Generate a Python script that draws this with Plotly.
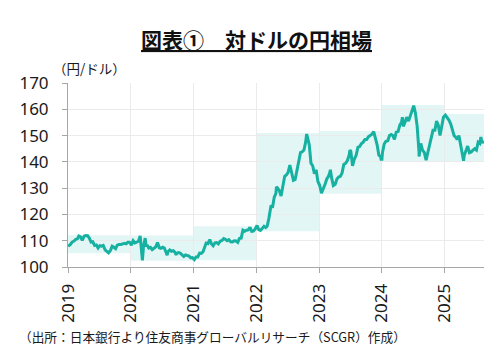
import pandas as pd
import plotly.graph_objects as go

# ---- data (USD/JPY, yen per dollar), sampled ~5th/15th/25th of each month ----
usdjpy_2019 = [108.0, 108.6, 109.5, 109.9, 110.5, 110.7, 111.8, 111.5, 110.1,
               111.7, 112.0, 111.9, 111.0, 109.5, 109.6, 108.2, 108.4, 107.2,
               108.1, 107.9, 108.2, 106.5, 106.0, 105.4, 106.3, 107.9, 107.5,
               107.0, 108.3, 108.6, 108.6, 108.8, 109.0, 108.8, 109.4, 109.4]
usdjpy_2020 = [108.3, 110.0, 109.2, 109.5, 109.8, 111.8, 106.5, 107.5, 111.0,
               108.4, 107.2, 107.5, 106.6, 107.2, 107.6, 109.3, 107.3, 107.1,
               107.5, 107.2, 105.8, 105.8, 106.5, 106.0, 106.2, 105.6, 105.2,
               105.5, 105.3, 104.8, 104.0, 104.6, 104.3, 104.2, 103.5, 103.6]
usdjpy_2021 = [102.8, 103.8, 103.8, 105.3, 105.2, 105.8, 107.7, 109.1, 108.9,
               110.4, 108.8, 108.1, 109.2, 109.3, 108.8, 109.8, 110.1, 110.8,
               110.5, 110.0, 110.4, 109.6, 109.5, 110.0, 109.9, 109.4, 110.9,
               111.0, 114.0, 113.6, 114.0, 114.1, 115.1, 113.6, 113.7, 114.4]
usdjpy_2022 = [115.8, 114.2, 113.9, 115.0, 115.5, 115.0, 115.5, 118.5, 122.0,
               122.5, 126.5, 128.0, 130.0, 129.0, 127.0, 130.5, 134.5, 135.0,
               136.0, 138.8, 136.5, 133.0, 133.3, 136.8, 140.5, 143.5, 143.8,
               144.5, 147.5, 149.5, 146.5, 139.5, 138.5, 135.5, 137.0, 132.6]
usdjpy_2023 = [131.0, 128.1, 129.5, 131.5, 133.5, 134.5, 136.0, 134.0, 131.0,
               131.5, 133.5, 134.2, 134.5, 135.8, 139.0, 139.5, 140.5, 142.5,
               144.0, 138.5, 141.0, 142.5, 145.5, 145.8, 147.0, 147.5, 148.5,
               148.5, 149.5, 150.0, 150.5, 151.5, 149.0, 146.5, 142.5, 142.0]
usdjpy_2024 = [143.5, 146.8, 147.8, 148.0, 150.0, 150.4, 150.0, 148.5, 151.3,
               151.5, 154.0, 155.0, 153.5, 155.0, 157.0, 155.5, 157.5, 159.5,
               161.4, 158.5, 153.5, 143.5, 147.0, 144.5, 143.5, 140.6, 143.5,
               146.5, 149.5, 152.0, 152.0, 155.5, 154.0, 150.0, 153.5, 157.0]
usdjpy_2025 = [157.8, 157.0, 156.0, 154.5, 152.0, 150.0, 149.5, 148.5, 150.0,
               146.5, 143.0, 142.5, 144.0, 146.0, 143.5, 143.8, 144.5, 145.0,
               144.5, 147.5, 147.0, 147.5, 147.5]
extra_dates = ["2019-01-03", "2020-03-09", "2020-03-31", "2020-07-31", "2020-09-21",
               "2020-12-30", "2022-03-28", "2022-04-28", "2022-10-21", "2023-03-08",
               "2023-06-30", "2023-12-28", "2024-01-02", "2024-04-30", "2024-08-05",
               "2025-04-21", "2025-07-31", "2025-08-18"]
extra_values = [107.7, 102.5, 107.8, 104.5, 104.6,
                103.2, 123.5, 130.5, 150.6, 137.0,
                144.5, 141.0, 141.0, 157.0, 142.0,
                140.4, 149.5, 147.6]

years = [2019, 2020, 2021, 2022, 2023, 2024, 2025]
year_low = [105.2, 102.4, 102.6, 113.6, 127.9, 140.3, 140.0]
year_high = [112.1, 112.0, 115.5, 151.0, 151.7, 161.6, 158.2]
x_end = "2025-08-18"

title_text = "図表①　対ドルの円相場"
unit_text = "（円/ドル）"
source_text = "（出所：日本銀行より住友商事グローバルリサーチ（SCGR）作成）"

# ---- build series ----
series = {2019: usdjpy_2019, 2020: usdjpy_2020, 2021: usdjpy_2021, 2022: usdjpy_2022,
          2023: usdjpy_2023, 2024: usdjpy_2024, 2025: usdjpy_2025}
rows = []
for y, vals in series.items():
    for i, v in enumerate(vals):
        m = i // 3 + 1
        d = [5, 15, 25][i % 3]
        rows.append((pd.Timestamp(year=y, month=m, day=d), v))
for d, v in zip(extra_dates, extra_values):
    rows.append((pd.Timestamp(d), v))
df = pd.DataFrame(rows, columns=["date", "rate"]).sort_values("date")

fig = go.Figure()

shapes = []
for i, y in enumerate(years):
    x0 = f"{y}-01-01"
    x1 = f"{y + 1}-01-01" if i < len(years) - 1 else x_end
    shapes.append(dict(type="rect", xref="x", yref="y", x0=x0, x1=x1,
                       y0=year_low[i], y1=year_high[i],
                       fillcolor="#e3f6f6", line=dict(width=0), layer="below"))

fig.add_trace(go.Scatter(x=df["date"], y=df["rate"], mode="lines",
                         line=dict(color="#16b1a1", width=3), hoverinfo="skip",
                         showlegend=False))

num_font = dict(family="Noto Sans, DejaVu Sans, sans-serif", size=17, color="#1a1a1a")

fig.update_layout(
    width=491, height=356,
    margin=dict(l=68, r=7, t=83, b=89),
    paper_bgcolor="white", plot_bgcolor="white",
    shapes=shapes,
    showlegend=False,
    xaxis=dict(range=["2019-01-01", x_end], tickvals=[f"{y}-01-01" for y in years],
               ticktext=[str(y) for y in years], tickangle=-90,
               showgrid=True, gridcolor="#ebebeb", gridwidth=1,
               showline=True, linecolor="#a6a6a6", linewidth=1,
               ticks="outside", ticklen=5, tickcolor="#a6a6a6",
               tickfont=num_font, zeroline=False, ticklabelstandoff=4),
    yaxis=dict(range=[100, 170], tickvals=list(range(100, 171, 10)),
               showgrid=True, gridcolor="#ebebeb", gridwidth=1,
               showline=True, linecolor="#a6a6a6", linewidth=1,
               ticks="outside", ticklen=5, tickcolor="#a6a6a6",
               tickfont=num_font, zeroline=False, ticklabelstandoff=10),
    annotations=[
        dict(text=f"<b><u>{title_text}</u></b>", xref="paper", yref="paper",
             x=(256 - 68) / 416, y=(356 - 89 - 39) / 184 * 1.0, xanchor="center",
             yanchor="middle", showarrow=False,
             font=dict(family="Noto Sans CJK JP", size=21, color="#111111")),
        dict(text=unit_text, xref="paper", yref="paper",
             x=(51 - 68) / 416, y=(267 - 68) / 184, xanchor="left", yanchor="middle",
             showarrow=False,
             font=dict(family="Noto Sans CJK JP", size=13.5, color="#1a1a1a")),
        dict(text=source_text, xref="paper", yref="paper",
             x=(17 - 68) / 416, y=(267 - 336) / 184, xanchor="left", yanchor="middle",
             showarrow=False,
             font=dict(family="Noto Sans CJK JP", size=12.7, color="#1a1a1a")),
    ],
)

fig.write_html("out.html", config={"displayModeBar": False},
               post_script="document.body.style.margin='0';")
